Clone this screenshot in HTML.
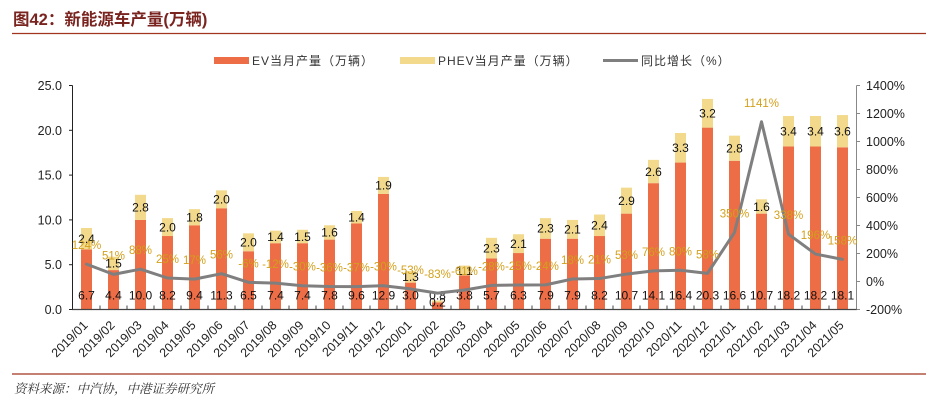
<!DOCTYPE html>
<html>
<head>
<meta charset="utf-8">
<style>
  html,body{margin:0;padding:0;background:#fff;}
  body{width:952px;height:408px;overflow:hidden;position:relative;}
  svg{position:absolute;left:0;top:0;}
  text{font-family:"Liberation Sans","Noto Sans CJK SC",sans-serif;}
</style>
</head>
<body>
<svg width="952" height="408" viewBox="0 0 952 408" xmlns="http://www.w3.org/2000/svg">
  <!-- Title -->
  <text x="13" y="25" font-size="16.5" font-weight="bold" fill="#7A2420">图42：新能源车产量(万辆)</text>
  <line x1="12" y1="33.5" x2="926" y2="33.5" stroke="#A0341E" stroke-width="1.2"/>

  <!-- Legend -->
  <rect x="214" y="57" width="35" height="7" fill="#ED6D46"/>
  <text x="252" y="65" font-size="12" fill="#333" letter-spacing="1">EV当月产量（万辆）</text>
  <rect x="400" y="57" width="35" height="7" fill="#F2D98C"/>
  <text x="438" y="65" font-size="12" fill="#333" letter-spacing="1">PHEV当月产量（万辆）</text>
  <line x1="603" y1="60.5" x2="638" y2="60.5" stroke="#7F7F7F" stroke-width="3"/>
  <text x="641" y="65" font-size="12" fill="#333" letter-spacing="1">同比增长（%）</text>

  <!-- Bars EV -->
  <g fill="#ED6D46">
    <rect x="81" y="249.47" width="11" height="60.03"/>
    <rect x="108" y="270.08" width="11" height="39.42"/>
    <rect x="135" y="219.9" width="11" height="89.6"/>
    <rect x="162" y="236.03" width="11" height="73.47"/>
    <rect x="189" y="225.28" width="11" height="84.22"/>
    <rect x="216" y="208.25" width="11" height="101.25"/>
    <rect x="243" y="251.26" width="11" height="58.24"/>
    <rect x="270" y="243.2" width="11" height="66.3"/>
    <rect x="297" y="243.2" width="11" height="66.3"/>
    <rect x="324" y="239.61" width="11" height="69.89"/>
    <rect x="351" y="223.48" width="11" height="86.02"/>
    <rect x="378" y="193.92" width="11" height="115.58"/>
    <rect x="405" y="282.62" width="11" height="26.88"/>
    <rect x="432" y="302.33" width="11" height="7.17"/>
    <rect x="459" y="275.45" width="11" height="34.05"/>
    <rect x="486" y="258.43" width="11" height="51.07"/>
    <rect x="513" y="253.05" width="11" height="56.45"/>
    <rect x="540" y="238.72" width="11" height="70.78"/>
    <rect x="567" y="238.72" width="11" height="70.78"/>
    <rect x="594" y="236.03" width="11" height="73.47"/>
    <rect x="621" y="213.63" width="11" height="95.87"/>
    <rect x="648" y="183.16" width="11" height="126.34"/>
    <rect x="675" y="162.56" width="11" height="146.94"/>
    <rect x="702" y="127.61" width="11" height="181.89"/>
    <rect x="729" y="160.76" width="11" height="148.74"/>
    <rect x="756" y="213.63" width="11" height="95.87"/>
    <rect x="783" y="146.43" width="11" height="163.07"/>
    <rect x="810" y="146.43" width="11" height="163.07"/>
    <rect x="837" y="147.32" width="11" height="162.18"/>
  </g>
  <!-- Bars PHEV -->
  <g fill="#F2D98C">
    <rect x="81" y="227.97" width="11" height="21.5"/>
    <rect x="108" y="256.64" width="11" height="13.44"/>
    <rect x="135" y="194.81" width="11" height="25.09"/>
    <rect x="162" y="218.11" width="11" height="17.92"/>
    <rect x="189" y="209.15" width="11" height="16.13"/>
    <rect x="216" y="190.33" width="11" height="17.92"/>
    <rect x="243" y="233.34" width="11" height="17.92"/>
    <rect x="270" y="230.66" width="11" height="12.54"/>
    <rect x="297" y="229.76" width="11" height="13.44"/>
    <rect x="324" y="225.27" width="11" height="14.34"/>
    <rect x="351" y="210.94" width="11" height="12.54"/>
    <rect x="378" y="176.9" width="11" height="17.02"/>
    <rect x="405" y="270.97" width="11" height="11.65"/>
    <rect x="432" y="300.54" width="11" height="1.79"/>
    <rect x="459" y="265.59" width="11" height="9.86"/>
    <rect x="486" y="237.82" width="11" height="20.61"/>
    <rect x="513" y="234.23" width="11" height="18.82"/>
    <rect x="540" y="218.11" width="11" height="20.61"/>
    <rect x="567" y="219.9" width="11" height="18.82"/>
    <rect x="594" y="214.53" width="11" height="21.5"/>
    <rect x="621" y="187.65" width="11" height="25.98"/>
    <rect x="648" y="159.86" width="11" height="23.3"/>
    <rect x="675" y="132.99" width="11" height="29.57"/>
    <rect x="702" y="98.94" width="11" height="28.67"/>
    <rect x="729" y="135.67" width="11" height="25.09"/>
    <rect x="756" y="199.29" width="11" height="14.34"/>
    <rect x="783" y="115.97" width="11" height="30.46"/>
    <rect x="810" y="115.97" width="11" height="30.46"/>
    <rect x="837" y="115.06" width="11" height="32.26"/>
  </g>

  <!-- Axes -->
  <line x1="72.5" y1="85.5" x2="72.5" y2="309.5" stroke="#222" stroke-width="1"/>
  <line x1="856.5" y1="85.5" x2="856.5" y2="309.5" stroke="#888" stroke-width="1"/>
  <line x1="72" y1="309.5" x2="857" y2="309.5" stroke="#444" stroke-width="1.2"/>
  <!-- left ticks -->
  <g stroke="#222" stroke-width="1">
    <line x1="69" y1="85.5" x2="72.5" y2="85.5"/>
    <line x1="69" y1="130.3" x2="72.5" y2="130.3"/>
    <line x1="69" y1="175.1" x2="72.5" y2="175.1"/>
    <line x1="69" y1="219.9" x2="72.5" y2="219.9"/>
    <line x1="69" y1="264.7" x2="72.5" y2="264.7"/>
    <line x1="69" y1="309.5" x2="72.5" y2="309.5"/>
  </g>
  <!-- right ticks -->
  <g stroke="#888" stroke-width="1">
    <line x1="856.5" y1="85.5" x2="860" y2="85.5"/>
    <line x1="856.5" y1="113.5" x2="860" y2="113.5"/>
    <line x1="856.5" y1="141.5" x2="860" y2="141.5"/>
    <line x1="856.5" y1="169.5" x2="860" y2="169.5"/>
    <line x1="856.5" y1="197.5" x2="860" y2="197.5"/>
    <line x1="856.5" y1="225.5" x2="860" y2="225.5"/>
    <line x1="856.5" y1="253.5" x2="860" y2="253.5"/>
    <line x1="856.5" y1="281.5" x2="860" y2="281.5"/>
    <line x1="856.5" y1="309.5" x2="860" y2="309.5"/>
  </g>
  <!-- x ticks -->
  <g stroke="#444" stroke-width="1">
    <line x1="100" y1="305.5" x2="100" y2="309.5"/><line x1="127" y1="305.5" x2="127" y2="309.5"/>
    <line x1="154" y1="305.5" x2="154" y2="309.5"/><line x1="181" y1="305.5" x2="181" y2="309.5"/>
    <line x1="208" y1="305.5" x2="208" y2="309.5"/><line x1="235" y1="305.5" x2="235" y2="309.5"/>
    <line x1="262" y1="305.5" x2="262" y2="309.5"/><line x1="289" y1="305.5" x2="289" y2="309.5"/>
    <line x1="316" y1="305.5" x2="316" y2="309.5"/><line x1="343" y1="305.5" x2="343" y2="309.5"/>
    <line x1="370" y1="305.5" x2="370" y2="309.5"/><line x1="397" y1="305.5" x2="397" y2="309.5"/>
    <line x1="424" y1="305.5" x2="424" y2="309.5"/><line x1="451" y1="305.5" x2="451" y2="309.5"/>
    <line x1="478" y1="305.5" x2="478" y2="309.5"/><line x1="505" y1="305.5" x2="505" y2="309.5"/>
    <line x1="532" y1="305.5" x2="532" y2="309.5"/><line x1="559" y1="305.5" x2="559" y2="309.5"/>
    <line x1="586" y1="305.5" x2="586" y2="309.5"/><line x1="613" y1="305.5" x2="613" y2="309.5"/>
    <line x1="640" y1="305.5" x2="640" y2="309.5"/><line x1="667" y1="305.5" x2="667" y2="309.5"/>
    <line x1="694" y1="305.5" x2="694" y2="309.5"/><line x1="721" y1="305.5" x2="721" y2="309.5"/>
    <line x1="748" y1="305.5" x2="748" y2="309.5"/><line x1="775" y1="305.5" x2="775" y2="309.5"/>
    <line x1="802" y1="305.5" x2="802" y2="309.5"/><line x1="829" y1="305.5" x2="829" y2="309.5"/>
  </g>

  <!-- Left axis labels -->
  <g font-size="12.5" fill="#222" text-anchor="end">
    <text x="62" y="90">25.0</text>
    <text x="62" y="134.8">20.0</text>
    <text x="62" y="179.6">15.0</text>
    <text x="62" y="224.4">10.0</text>
    <text x="62" y="269.2">5.0</text>
    <text x="62" y="314">0.0</text>
  </g>
  <!-- Right axis labels -->
  <g font-size="12.5" fill="#222">
    <text x="866" y="90">1400%</text>
    <text x="866" y="118">1200%</text>
    <text x="866" y="146">1000%</text>
    <text x="866" y="174">800%</text>
    <text x="866" y="202">600%</text>
    <text x="866" y="230">400%</text>
    <text x="866" y="258">200%</text>
    <text x="866" y="286">0%</text>
    <text x="866" y="314">-200%</text>
  </g>

  <!-- EV labels -->
  <g font-size="12" fill="#111" text-anchor="middle">
    <text x="86.5" y="299.5">6.7</text>
    <text x="113.5" y="299.5">4.4</text>
    <text x="140.5" y="299.5">10.0</text>
    <text x="167.5" y="299.5">8.2</text>
    <text x="194.5" y="299.5">9.4</text>
    <text x="221.5" y="299.5">11.3</text>
    <text x="248.5" y="299.5">6.5</text>
    <text x="275.5" y="299.5">7.4</text>
    <text x="302.5" y="299.5">7.4</text>
    <text x="329.5" y="299.5">7.8</text>
    <text x="356.5" y="299.5">9.6</text>
    <text x="383.5" y="299.5">12.9</text>
    <text x="410.5" y="299.5">3.0</text>
    <text x="437.5" y="299.5">0.8</text>
    <text x="464.5" y="299.5">3.8</text>
    <text x="491.5" y="299.5">5.7</text>
    <text x="518.5" y="299.5">6.3</text>
    <text x="545.5" y="299.5">7.9</text>
    <text x="572.5" y="299.5">7.9</text>
    <text x="599.5" y="299.5">8.2</text>
    <text x="626.5" y="299.5">10.7</text>
    <text x="653.5" y="299.5">14.1</text>
    <text x="680.5" y="299.5">16.4</text>
    <text x="707.5" y="299.5">20.3</text>
    <text x="734.5" y="299.5">16.6</text>
    <text x="761.5" y="299.5">10.7</text>
    <text x="788.5" y="299.5">18.2</text>
    <text x="815.5" y="299.5">18.2</text>
    <text x="842.5" y="299.5">18.1</text>
  </g>
  <!-- PHEV labels -->
  <g font-size="12" fill="#111" text-anchor="middle">
    <text x="86.5" y="243">2.4</text>
    <text x="113.5" y="267.7">1.5</text>
    <text x="140.5" y="211.7">2.8</text>
    <text x="167.5" y="231.4">2.0</text>
    <text x="194.5" y="221.5">1.8</text>
    <text x="221.5" y="203.6">2.0</text>
    <text x="248.5" y="246.6">2.0</text>
    <text x="275.5" y="241.2">1.4</text>
    <text x="302.5" y="240.8">1.5</text>
    <text x="329.5" y="236.7">1.6</text>
    <text x="356.5" y="221.5">1.4</text>
    <text x="383.5" y="189.7">1.9</text>
    <text x="410.5" y="281.1">1.3</text>
    <text x="437.5" y="306.5">0.2</text>
    <text x="464.5" y="274.8">1.1</text>
    <text x="491.5" y="252.4">2.3</text>
    <text x="518.5" y="247.9">2.1</text>
    <text x="545.5" y="232.7">2.3</text>
    <text x="572.5" y="233.6">2.1</text>
    <text x="599.5" y="229.6">2.4</text>
    <text x="626.5" y="204.9">2.9</text>
    <text x="653.5" y="175.8">2.6</text>
    <text x="680.5" y="152.1">3.3</text>
    <text x="707.5" y="117.6">3.2</text>
    <text x="734.5" y="152.5">2.8</text>
    <text x="761.5" y="210.8">1.6</text>
    <text x="788.5" y="135.5">3.4</text>
    <text x="815.5" y="135.5">3.4</text>
    <text x="842.5" y="135.5">3.6</text>
  </g>

  <!-- Growth line -->
  <polyline fill="none" stroke="#7F7F7F" stroke-width="3" stroke-linejoin="round" stroke-linecap="round"
    points="86.5,264.14 113.5,274.36 140.5,269.18 167.5,278 194.5,279.12 221.5,273.66 248.5,282.34 275.5,283.18 302.5,285.7 329.5,286.54 356.5,286.68 383.5,285.7 410.5,288.92 437.5,293.12 464.5,290.04 491.5,285.42 518.5,285 545.5,284.86 572.5,278.98 599.5,278.56 626.5,274.08 653.5,270.86 680.5,270.3 707.5,273.38 734.5,232.5 761.5,121.76 788.5,234.18 815.5,254.06 842.5,259.38"/>

  <!-- Growth labels -->
  <g font-size="11.5" fill="#D2A01C" text-anchor="middle">
    <text x="86.5" y="249.1">124%</text>
    <text x="113.5" y="259.4">51%</text>
    <text x="140.5" y="254.2">88%</text>
    <text x="167.5" y="263">25%</text>
    <text x="194.5" y="264.1">17%</text>
    <text x="221.5" y="258.7">56%</text>
    <text x="248.5" y="267.3">-6%</text>
    <text x="275.5" y="268.2">-12%</text>
    <text x="302.5" y="270.7">-30%</text>
    <text x="329.5" y="271.5">-36%</text>
    <text x="356.5" y="271.7">-37%</text>
    <text x="383.5" y="270.7">-30%</text>
    <text x="410.5" y="273.9">-53%</text>
    <text x="437.5" y="278.1">-83%</text>
    <text x="464.5" y="275">-61%</text>
    <text x="491.5" y="270.4">-28%</text>
    <text x="518.5" y="270">-25%</text>
    <text x="545.5" y="269.9">-24%</text>
    <text x="572.5" y="264">18%</text>
    <text x="599.5" y="263.6">21%</text>
    <text x="626.5" y="259.1">53%</text>
    <text x="653.5" y="255.9">76%</text>
    <text x="680.5" y="255.3">80%</text>
    <text x="707.5" y="258.4">58%</text>
    <text x="734.5" y="217.5">350%</text>
    <text x="761.5" y="106.8">1141%</text>
    <text x="788.5" y="219.2">338%</text>
    <text x="815.5" y="239.1">196%</text>
    <text x="842.5" y="244.4">158%</text>
  </g>

  <!-- X labels -->
  <g font-size="12.5" fill="#222" text-anchor="end">
    <text transform="translate(88.5,326) rotate(-45)">2019/01</text>
    <text transform="translate(115.5,326) rotate(-45)">2019/02</text>
    <text transform="translate(142.5,326) rotate(-45)">2019/03</text>
    <text transform="translate(169.5,326) rotate(-45)">2019/04</text>
    <text transform="translate(196.5,326) rotate(-45)">2019/05</text>
    <text transform="translate(223.5,326) rotate(-45)">2019/06</text>
    <text transform="translate(250.5,326) rotate(-45)">2019/07</text>
    <text transform="translate(277.5,326) rotate(-45)">2019/08</text>
    <text transform="translate(304.5,326) rotate(-45)">2019/09</text>
    <text transform="translate(331.5,326) rotate(-45)">2019/10</text>
    <text transform="translate(358.5,326) rotate(-45)">2019/11</text>
    <text transform="translate(385.5,326) rotate(-45)">2019/12</text>
    <text transform="translate(412.5,326) rotate(-45)">2020/01</text>
    <text transform="translate(439.5,326) rotate(-45)">2020/02</text>
    <text transform="translate(466.5,326) rotate(-45)">2020/03</text>
    <text transform="translate(493.5,326) rotate(-45)">2020/04</text>
    <text transform="translate(520.5,326) rotate(-45)">2020/05</text>
    <text transform="translate(547.5,326) rotate(-45)">2020/06</text>
    <text transform="translate(574.5,326) rotate(-45)">2020/07</text>
    <text transform="translate(601.5,326) rotate(-45)">2020/08</text>
    <text transform="translate(628.5,326) rotate(-45)">2020/09</text>
    <text transform="translate(655.5,326) rotate(-45)">2020/10</text>
    <text transform="translate(682.5,326) rotate(-45)">2020/11</text>
    <text transform="translate(709.5,326) rotate(-45)">2020/12</text>
    <text transform="translate(736.5,326) rotate(-45)">2021/01</text>
    <text transform="translate(763.5,326) rotate(-45)">2021/02</text>
    <text transform="translate(790.5,326) rotate(-45)">2021/03</text>
    <text transform="translate(817.5,326) rotate(-45)">2021/04</text>
    <text transform="translate(844.5,326) rotate(-45)">2021/05</text>
  </g>

  <!-- Footer -->
  <line x1="12" y1="374" x2="926" y2="374" stroke="#A0341E" stroke-width="1.2"/>
  <text x="14" y="393" font-size="12.5" font-style="italic" fill="#333" style="font-family:'Liberation Serif','Noto Serif CJK SC',serif;">资料来源：中汽协，中港证券研究所</text>
</svg>
</body>
</html>
